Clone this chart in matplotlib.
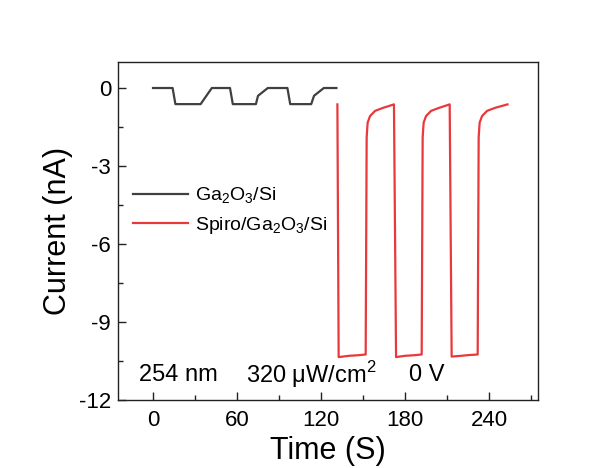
import matplotlib
matplotlib.use("Agg")
import matplotlib.pyplot as plt
from matplotlib.ticker import MultipleLocator

plt.rcParams['font.family'] = ['Liberation Sans', 'DejaVu Sans']
plt.rcParams['mathtext.fontset'] = 'custom'
plt.rcParams['mathtext.rm'] = 'Liberation Sans'
plt.rcParams['axes.unicode_minus'] = False

# Ga2O3/Si response (time in s, current in nA)
t_ga = [0, 14, 16, 34, 42, 55, 57, 73.5, 75, 82, 96, 98, 113, 115, 122, 131]
i_ga = [0, 0, -0.62, -0.62, 0, 0, -0.62, -0.62, -0.3, 0, 0, -0.62, -0.62, -0.3, 0, 0]

# Spiro/Ga2O3/Si response
t_sp = [131.7, 132.6, 140, 146, 151.9, 152.6, 153.3, 155.0, 158.6, 164.5, 172.1,
        173.6, 180, 186, 191.9, 192.6, 193.3, 195.0, 198.6, 204.5, 211.9,
        213.3, 220, 226, 231.9, 232.6, 233.3, 235.0, 238.6, 244.5, 253.2]
i_sp = [-0.63, -10.35, -10.3, -10.28, -10.25, -1.9, -1.33, -1.08, -0.88, -0.76, -0.63,
        -10.35, -10.3, -10.28, -10.25, -1.9, -1.33, -1.08, -0.88, -0.76, -0.63,
        -10.33, -10.3, -10.27, -10.25, -1.9, -1.33, -1.08, -0.88, -0.76, -0.63]

fig = plt.figure(figsize=(6.13, 4.68), dpi=100)
ax = fig.add_axes([0.1925, 0.1453, 0.6852, 0.7222])

ax.plot(t_ga, i_ga, color='#404040', lw=1.6, label='Ga$_\\mathregular{2}$O$_\\mathregular{3}$/Si')
ax.plot(t_sp, i_sp, color='#e8393c', lw=1.6,
        label='Spiro/Ga$_\\mathregular{2}$O$_\\mathregular{3}$/Si')

ax.set_xlim(-25, 275)
ax.set_ylim(-12, 1)
ax.set_xticks([0, 60, 120, 180, 240])
ax.set_yticks([0, -3, -6, -9, -12])
ax.xaxis.set_minor_locator(MultipleLocator(30))
ax.yaxis.set_minor_locator(MultipleLocator(1.5))
ax.tick_params(which='both', direction='in', labelsize=16, width=1, color='#222222')
ax.tick_params(which='major', length=6)
ax.tick_params(which='minor', length=3.5)
ax.tick_params(axis='x', pad=7)
ax.tick_params(axis='y', pad=5)
for s in ax.spines.values():
    s.set_linewidth(1)
    s.set_color('#222222')

ax.set_xlabel('Time (S)', fontsize=22, labelpad=4)
ax.set_ylabel('Current (nA)', fontsize=22, labelpad=4)

ax.legend(loc='center left', bbox_to_anchor=(0.036, 0.559), frameon=False,
          fontsize=14, handlelength=2.8, handletextpad=0.4, labelspacing=0.45,
          borderpad=0, borderaxespad=0)

ax.text(0.05, 0.074, '254 nm', transform=ax.transAxes, fontsize=17, va='center')
ax.text(0.305, 0.074, '320 μW/cm$^\\mathregular{2}$', transform=ax.transAxes,
        fontsize=17, va='center')
ax.text(0.693, 0.074, '0 V', transform=ax.transAxes, fontsize=17, va='center')

fig.savefig('out.png', dpi=100)
